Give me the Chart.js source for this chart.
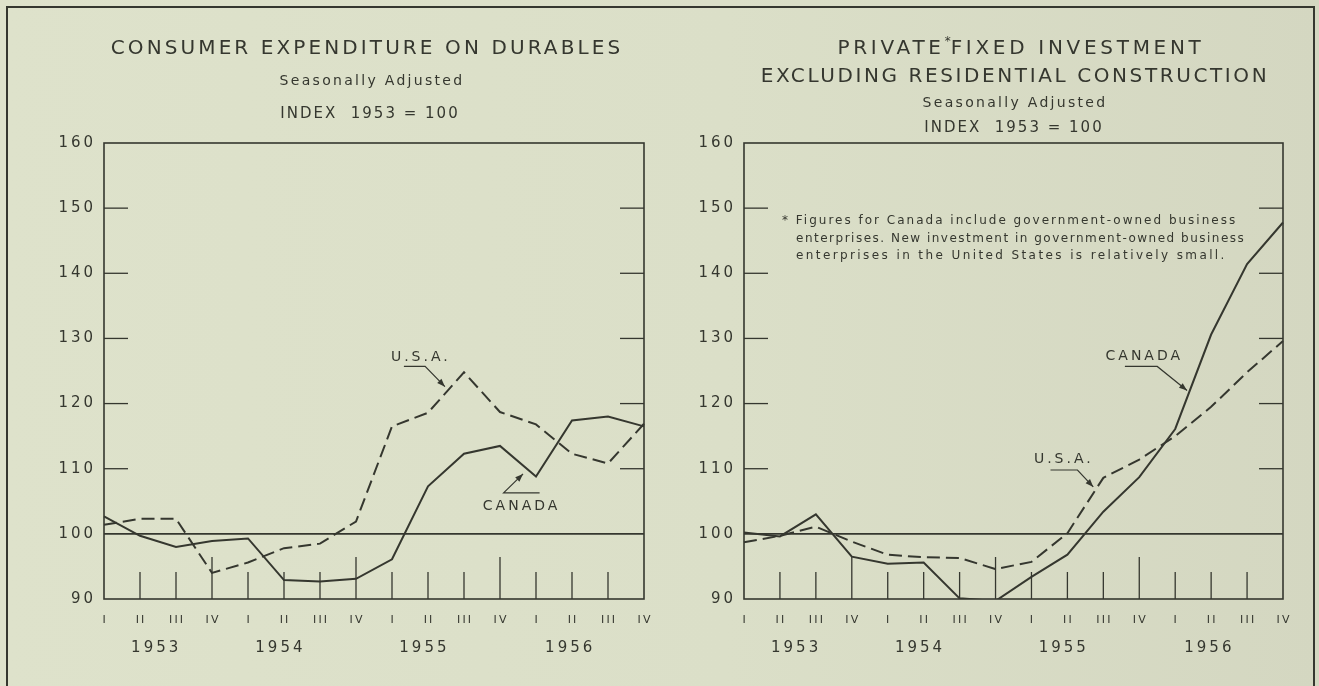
<!DOCTYPE html>
<html>
<head>
<meta charset="utf-8">
<script src="https://cdn.jsdelivr.net/npm/chart.js@4/dist/chart.umd.min.js"></script>
<style>
  body { margin: 0; width: 1319px; height: 686px; overflow: hidden;
         background: linear-gradient(90deg, #dee2cb 0%, #dbdfc8 55%, #d4d7c1 100%);
         font-family: "DejaVu Sans", sans-serif; color: #35372f; }
  #frame { position: absolute; left: 6px; top: 6px; width: 1305px; height: 720px; border: 2px solid #35372f; }
  canvas { position: absolute; top: 0; }
  .t { position: absolute; transform: translate(-50%, -50%); white-space: nowrap; }
  .big { font-size: 20px; letter-spacing: 3.1px; }
  .sub { font-size: 14px; letter-spacing: 2.3px; }
  .idx { font-size: 15px; letter-spacing: 2px; }
  .star { position: relative; top: -9px; font-size: 12px; letter-spacing: 0; }
  .fn { position: absolute; left: 796px; font-size: 12px; white-space: pre; line-height: 14px; }
</style>
</head>
<body>
<div id="frame"></div>
<canvas id="durables" width="666" height="686" style="left:0"></canvas>
<canvas id="invest" width="659" height="686" style="left:660px"></canvas>

<div class="t big" style="left:367px;top:47px">CONSUMER EXPENDITURE ON DURABLES</div>
<div class="t sub" style="left:372px;top:80px">Seasonally Adjusted</div>
<div class="t idx" style="left:370px;top:113px">INDEX&nbsp; 1953 = 100</div>

<div class="t big" style="left:1021px;top:47px;letter-spacing:3.7px">PRIVATE<span class="star">*</span>FIXED INVESTMENT</div>
<div class="t big" style="left:1015px;top:75px;letter-spacing:2.6px">EXCLUDING RESIDENTIAL CONSTRUCTION</div>
<div class="t sub" style="left:1015px;top:102px">Seasonally Adjusted</div>
<div class="t idx" style="left:1014px;top:127px">INDEX&nbsp; 1953 = 100</div>

<div class="fn" style="left:782px;top:213px;letter-spacing:2px">* Figures for Canada include government-owned business</div>
<div class="fn" style="top:231px;letter-spacing:1.5px">enterprises. New investment in government-owned business</div>
<div class="fn" style="top:248px;letter-spacing:2.4px">enterprises in the United States is relatively small.</div>

<script>
// quarters along the bottom, years under them
const quarters = ['I', 'II', 'III', 'IV', 'I', 'II', 'III', 'IV', 'I', 'II', 'III', 'IV', 'I', 'II', 'III', 'IV'];
const years = ['1953', '1954', '1955', '1956'];
const yearSpots = [1.45, 4.9, 8.9, 12.95];
const yTickValues = [90, 100, 110, 120, 130, 140, 150, 160];

// consumer expenditure on durables, 1953 = 100
const durablesCanada = [102.7, 99.7, 98.0, 98.9, 99.3, 92.9, 92.7, 93.1, 96.1, 107.3, 112.3, 113.5, 108.8, 117.4, 118.0, 116.5];
const durablesUSA = [101.4, 102.3, 102.3, 94.0, 95.6, 97.8, 98.5, 101.9, 116.5, 118.6, 124.8, 118.7, 116.8, 112.3, 110.8, 116.9];

// private fixed investment excl. residential construction, 1953 = 100
const investCanada = [100.2, 99.6, 103.0, 96.5, 95.4, 95.6, 90.1, 89.7, 93.4, 96.8, 103.4, 108.7, 116.1, 130.6, 141.4, 147.8];
const investUSA = [98.7, 99.7, 101.1, 98.8, 96.8, 96.4, 96.3, 94.6, 95.7, 100.1, 108.6, 111.4, 115.0, 119.5, 124.8, 129.6];

// line labels with leader arrows (in quarter index / index value units)
const durablesNotes = [
  { text: 'U.S.A.', at: [8.8, 127.1], path: [[8.33, 125.7], [8.92, 125.7], [9.47, 122.6]] },
  { text: 'CANADA', at: [11.6, 104.2], path: [[12.1, 106.3], [11.1, 106.3], [11.64, 109.2]] }
];
const investNotes = [
  { text: 'CANADA', at: [11.14, 127.2], path: [[10.6, 125.7], [11.5, 125.7], [12.33, 122.0]] },
  { text: 'U.S.A.', at: [8.9, 111.4], path: [[8.53, 109.8], [9.28, 109.8], [9.72, 107.2]] }
];

const ink = '#35372f';
const font = 'DejaVu Sans';
const tallTicks = [3, 7, 11];

function spaced(s) {
  return String(s).split('').join('\u2009');
}

function stroke(ctx, x1, y1, x2, y2) {
  ctx.beginPath();
  ctx.moveTo(x1, y1);
  ctx.lineTo(x2, y2);
  ctx.stroke();
}

function decor(notes) {
  return {
    id: 'decor',
    beforeDatasetsDraw(chart) {
      const { ctx, chartArea: a, scales: { x, y } } = chart;
      ctx.save();
      ctx.strokeStyle = ink;
      ctx.lineWidth = 1.6;
      ctx.strokeRect(a.left, a.top, a.right - a.left, a.bottom - a.top);

      // base line at 100
      const y100 = y.getPixelForValue(100);
      stroke(ctx, a.left, y100, a.right, y100);

      // short inward ticks on both sides
      ctx.lineWidth = 1.3;
      yTickValues.forEach(v => {
        if (v <= 100 || v >= 160) return;
        const py = y.getPixelForValue(v);
        stroke(ctx, a.left, py, a.left + 24, py);
        stroke(ctx, a.right - 24, py, a.right, py);
      });

      // quarter ticks from the bottom, longer at year ends
      for (let i = 1; i < quarters.length - 1; i++) {
        const px = x.getPixelForValue(i);
        const len = tallTicks.includes(i) ? 42 : 27;
        stroke(ctx, px, a.bottom, px, a.bottom - len);
      }

      // years
      ctx.fillStyle = ink;
      ctx.font = '15px "' + font + '"';
      ctx.letterSpacing = '3px';
      ctx.textAlign = 'center';
      ctx.textBaseline = 'middle';
      years.forEach((t, k) => ctx.fillText(t, x.getPixelForValue(yearSpots[k]), a.bottom + 49));
      ctx.restore();
    },
    afterDatasetsDraw(chart) {
      const { ctx, scales: { x, y } } = chart;
      ctx.save();
      ctx.fillStyle = ink;
      ctx.strokeStyle = ink;
      ctx.lineWidth = 1.2;
      ctx.font = '14px "' + font + '"';
      ctx.letterSpacing = '3px';
      ctx.textAlign = 'center';
      ctx.textBaseline = 'middle';
      notes.forEach(n => {
        ctx.fillText(n.text, x.getPixelForValue(n.at[0]), y.getPixelForValue(n.at[1]));
        const pts = n.path.map(p => [x.getPixelForValue(p[0]), y.getPixelForValue(p[1])]);
        ctx.beginPath();
        pts.forEach((p, i) => i ? ctx.lineTo(p[0], p[1]) : ctx.moveTo(p[0], p[1]));
        ctx.stroke();
        // arrow head
        const [tx, ty] = pts[pts.length - 1];
        const [px, py] = pts[pts.length - 2];
        const ang = Math.atan2(ty - py, tx - px);
        const L = 8, W = 3;
        ctx.beginPath();
        ctx.moveTo(tx, ty);
        ctx.lineTo(tx - L * Math.cos(ang) + W * Math.sin(ang), ty - L * Math.sin(ang) - W * Math.cos(ang));
        ctx.lineTo(tx - L * Math.cos(ang) - W * Math.sin(ang), ty - L * Math.sin(ang) + W * Math.cos(ang));
        ctx.closePath();
        ctx.fill();
      });
      ctx.restore();
    }
  };
}

function makeChart(id, canada, usa, notes, axisWidth, padRight) {
  return new Chart(document.getElementById(id), {
    type: 'line',
    data: {
      labels: quarters,
      datasets: [
        { label: 'Canada', data: canada, borderColor: ink, borderWidth: 2, pointRadius: 0, tension: 0 },
        { label: 'U.S.A.', data: usa, borderColor: ink, borderWidth: 2, borderDash: [13, 6], pointRadius: 0, tension: 0 }
      ]
    },
    options: {
      responsive: false,
      animation: false,
      devicePixelRatio: 1,
      layout: { padding: { top: 143, left: 0, right: padRight, bottom: 0 } },
      plugins: { legend: { display: false }, tooltip: { enabled: false } },
      scales: {
        x: {
          offset: false,
          grid: { display: false, drawTicks: false },
          border: { display: false },
          ticks: {
            color: ink, font: { family: font, size: 11 }, padding: 15,
            maxRotation: 0, autoSkip: false,
            callback: (v, i) => spaced(quarters[i])
          },
          afterFit: s => { s.height = 87; }
        },
        y: {
          min: 90, max: 160,
          grid: { display: false, drawTicks: false },
          border: { display: false },
          ticks: {
            stepSize: 10, color: ink, padding: 11,
            font: { family: font, size: 15 },
            callback: v => spaced(v)
          },
          afterFit: s => { s.width = axisWidth; }
        }
      }
    },
    plugins: [decor(notes)]
  });
}

makeChart('durables', durablesCanada, durablesUSA, durablesNotes, 104, 22);
makeChart('invest', investCanada, investUSA, investNotes, 84, 36);
</script>
</body>
</html>
